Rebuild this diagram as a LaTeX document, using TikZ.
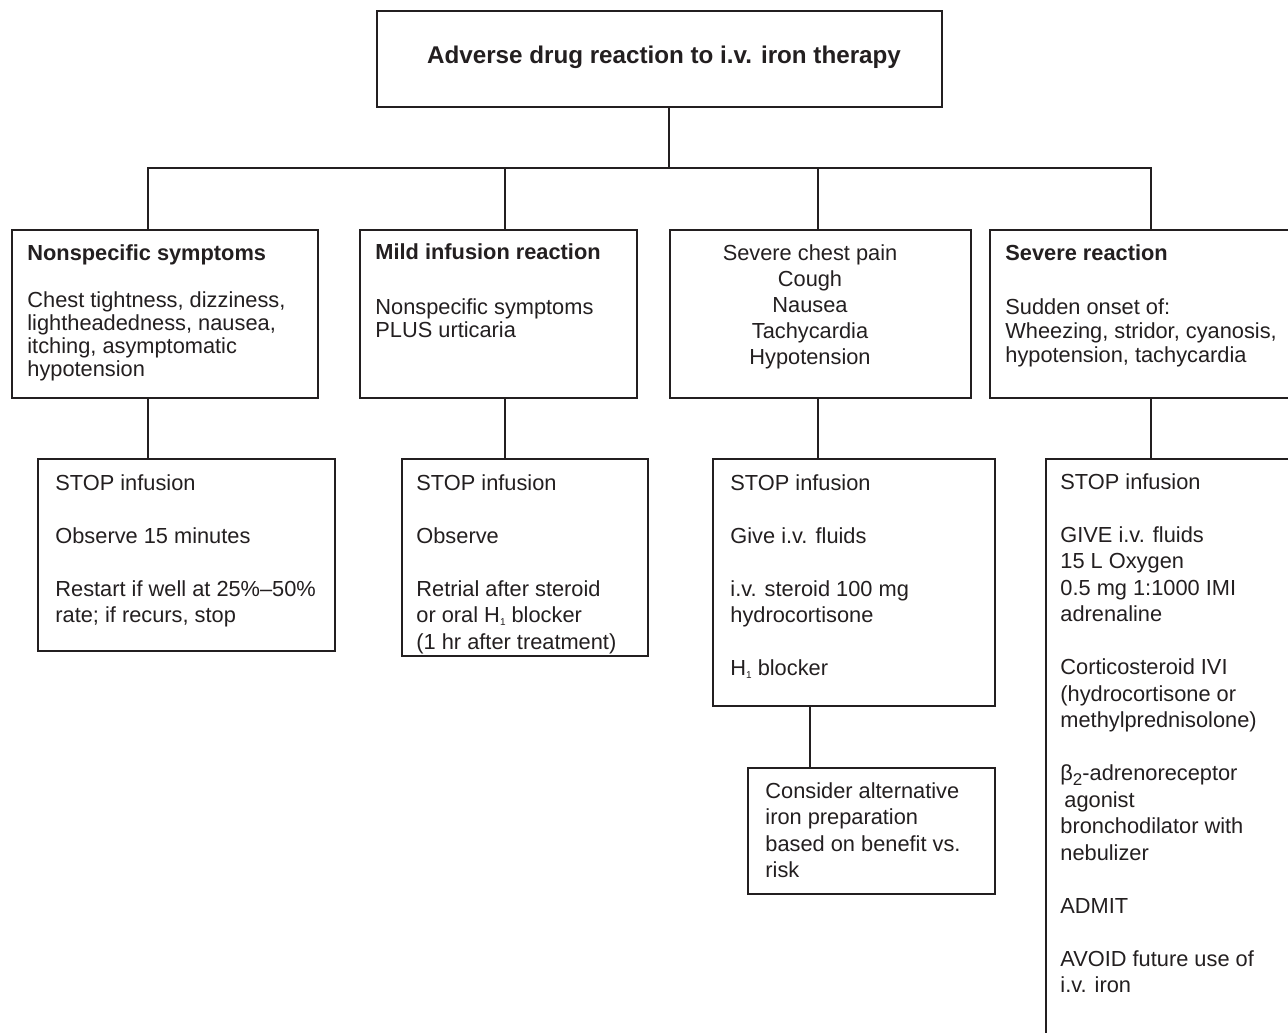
\documentclass[tikz,border=0pt]{standalone}
\usepackage{fontspec}
\setmainfont{Liberation Sans}
\definecolor{ink}{RGB}{35,31,32}
\newcommand{\Hsub}{H\raisebox{-0.25ex}{\fontsize{5}{5}\selectfont 1}}
\begin{document}
\begin{tikzpicture}[x=0.5pt,y=-0.5pt,
  box/.style={draw=ink, line width=1pt, rectangle, inner sep=0pt, anchor=north west},
  conn/.style={draw=ink, line width=1pt},
  txt/.style={anchor=north west, inner sep=0pt, align=left, text=ink, font=\fontsize{10.9}{13.25}\selectfont},
  tighttxt/.style={txt, font=\fontsize{10.9}{11.5}\selectfont},
  midtxt/.style={txt, font=\fontsize{10.9}{12.2}\selectfont},
  ctxt/.style={anchor=north, inner sep=0pt, align=center, text=ink, font=\fontsize{10.9}{13}\selectfont}]
\clip (0,0) rectangle (1288,1032);
\fill[white] (0,0) rectangle (1288,1032);
% boxes
\node[box, minimum width=282.5pt, minimum height=48pt] (title) at (376,10) {};
\node[box, minimum width=153pt, minimum height=84pt] (b1) at (11,229) {};
\node[box, minimum width=138.5pt, minimum height=84pt] (b2) at (359,229) {};
\node[box, minimum width=150.5pt, minimum height=84pt] (b3) at (669,229) {};
\node[box, minimum width=200pt, minimum height=84pt] (b4) at (989,229) {};
\node[box, minimum width=148.5pt, minimum height=96pt] (b5) at (37,458) {};
\node[box, minimum width=123pt, minimum height=98.5pt] (b6) at (401,458) {};
\node[box, minimum width=141pt, minimum height=123.5pt] (b7) at (712,458) {};
\node[box, minimum width=150pt, minimum height=350pt] (b8) at (1045,458) {};
\node[box, minimum width=123.5pt, minimum height=63pt] (b9) at (747,767) {};
% connectors
\coordinate (j) at (669,168);
\coordinate (k1) at (148,168);
\coordinate (k2) at (505,168);
\coordinate (k3) at (818,168);
\coordinate (k4) at (1151,168);
\coordinate (m) at (810,740);
\draw[conn] (title.south -| j) -- (j);
\draw[conn] (k1 |- b1.north) -- (k1) -- (k4) -- (k4 |- b4.north);
\draw[conn] (k2) -- (k2 |- b2.north);
\draw[conn] (k3) -- (k3 |- b3.north);
\draw[conn] (b1.south -| k1) -- (b5.north -| k1);
\draw[conn] (b2.south -| k2) -- (b6.north -| k2);
\draw[conn] (b3.south -| k3) -- (b7.north -| k3);
\draw[conn] (b4.south -| k4) -- (b8.north -| k4);
\draw[conn] (b7.south -| m) -- (b9.north -| m);
% texts
\node[anchor=center, inner sep=0pt, text=ink, font=\fontsize{12.1}{14}\selectfont\bfseries] (t0) at (664,57) {Adverse drug reaction to i.v. iron therapy};
\node[txt] (t1h) at (27,244) {\textbf{Nonspecific symptoms}};
\node[tighttxt] (t1) at (27,291) {Chest tightness, dizziness,\\lightheadedness, nausea,\\itching, asymptomatic\\hypotension};
\node[txt] (t2h) at (375,243) {\textbf{Mild infusion reaction}};
\node[tighttxt] (t2) at (375,298) {Nonspecific symptoms\\PLUS urticaria};
\node[ctxt] (t3) at (810,244) {Severe chest pain\\Cough\\Nausea\\Tachycardia\\Hypotension};
\node[txt] (t4h) at (1005,244) {\textbf{Severe reaction}};
\node[midtxt] (t4) at (1005,298) {Sudden onset of:\\Wheezing, stridor, cyanosis,\\hypotension, tachycardia};
\node[txt] (t5) at (55,474) {STOP infusion\\[13.25pt]Observe 15 minutes\\[13.25pt]Restart if well at 25\%–50\%\\rate; if recurs, stop};
\node[txt] (t6) at (416,474) {STOP infusion\\[13.25pt]Observe\\[13.25pt]Retrial after steroid\\or oral \Hsub{} blocker\\(1 hr after treatment)};
\node[txt] (t7) at (730,474) {STOP infusion\\[13.25pt]Give i.v. fluids\\[13.25pt]i.v. steroid 100 mg\\hydrocortisone\\[13.25pt]\Hsub{} blocker};
\node[txt] (t9) at (765,782) {Consider alternative\\iron preparation\\based on benefit vs.\\risk};
\node[txt] (t8) at (1060,473) {STOP infusion\\[13.25pt]GIVE i.v. fluids\\15 L Oxygen\\0.5 mg 1:1000 IMI\\adrenaline\\[13.25pt]Corticosteroid IVI\\(hydrocortisone or\\methylprednisolone)\\[13.25pt]β\raisebox{-0.4ex}{\fontsize{8.5}{8.5}\selectfont 2}-adrenoreceptor\\\hspace{2pt}agonist\\bronchodilator with\\nebulizer\\[13.25pt]ADMIT\\[13.25pt]AVOID future use of\\i.v. iron};
\end{tikzpicture}
\end{document}
